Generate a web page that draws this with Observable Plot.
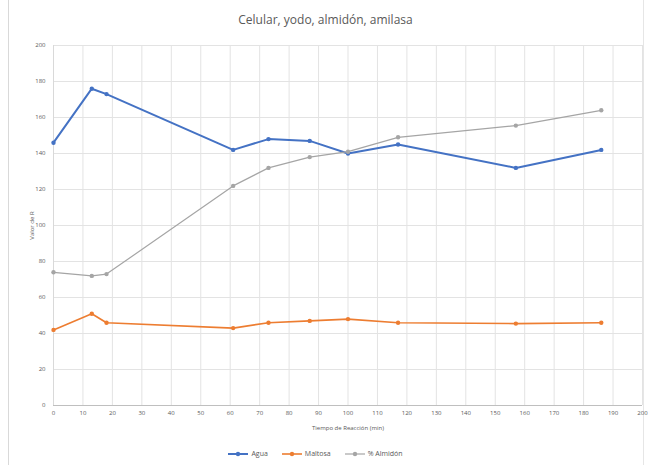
<!DOCTYPE html>
<html>
<head>
<meta charset="utf-8">
<script src="https://cdn.jsdelivr.net/npm/d3@7"></script>
<script src="https://cdn.jsdelivr.net/npm/@observablehq/plot@0.6"></script>
<style>
  body { margin: 0; background: #fff; font-family: "Open Sans", sans-serif; }
  #wrap { position: relative; width: 651px; height: 466px; overflow: hidden; }
  #frame { position: absolute; left: 8px; top: 0; width: 636px; height: 465px; border-left: 1px solid #d9d9d9; border-right: 1px solid #e6e6e6; box-sizing: border-box; }
  #title { position: absolute; left: 0; width: 651px; top: 11px; text-align: center; font-size: 12px; color: #595959; }
  #chart { position: absolute; left: 0; top: 32px; }
  #legend { position: absolute; left: -10px; width: 651px; top: 449px; display: flex; justify-content: center; gap: 14px; font-size: 7px; color: #595959; }
  .item { display: flex; align-items: center; gap: 3px; }
</style>
</head>
<body>
<div id="wrap">
  <div id="frame"></div>
  <div id="title">Celular, yodo, almidón, amilasa</div>
  <div id="chart"></div>
  <div id="legend"></div>
</div>
<script>
const times = [0, 13, 18, 61, 73, 87, 100, 117, 157, 186];
const seriesNames = ["Agua", "Maltosa", "% Almidón"];
const seriesColors = ["#4472C4", "#ED7D31", "#A5A5A5"];
const seriesWidths = [2, 1.6, 1.2];
const agua = [146, 176, 173, 142, 148, 147, 140, 145, 132, 142];
const maltosa = [42, 51, 46, 43, 46, 47, 48, 46, 45.5, 46];
const almidon = [74, 72, 73, 122, 132, 138, 141, 149, 155.5, 164];
const xTicks = d3.range(0, 201, 10);
const yTicks = d3.range(0, 201, 20);
const xLabel = "Tiempo de Reacción (min)";
const yLabel = "Valor de R";

const seriesValues = [agua, maltosa, almidon];
const data = [];
seriesNames.forEach((name, i) => {
  times.forEach((t, j) => data.push({ serie: name, t, v: seriesValues[i][j], w: seriesWidths[i] }));
});

const chart = Plot.plot({
  width: 651,
  height: 403,
  marginLeft: 53,
  marginRight: 9,
  marginTop: 13,
  marginBottom: 30,
  style: { fontFamily: "Open Sans, sans-serif", fontSize: "6px", color: "#595959", background: "transparent" },
  x: { domain: [0, 200] },
  y: { domain: [0, 200] },
  color: { domain: seriesNames, range: seriesColors },
  marks: [
    Plot.gridX(xTicks, { stroke: "#e3e3e3", strokeOpacity: 1 }),
    Plot.gridY(yTicks, { stroke: "#e3e3e3", strokeOpacity: 1 }),
    Plot.ruleY([0], { stroke: "#bfbfbf" }),
    Plot.ruleX([0], { stroke: "#d9d9d9" }),
    ...seriesNames.map((name, i) =>
      Plot.line(data.filter(d => d.serie === name), { x: "t", y: "v", stroke: "serie", strokeWidth: seriesWidths[i] })),
    Plot.dot(data, { x: "t", y: "v", fill: "serie", r: 2.2 }),
    Plot.axisX({ ticks: xTicks, tickSize: 0, tickPadding: 5, fontSize: 6, label: xLabel, labelAnchor: "center", labelOffset: 24, labelArrow: "none" }),
    Plot.axisY({ ticks: yTicks, tickSize: 0, tickPadding: 8, fontSize: 6, label: yLabel, labelAnchor: "center", labelOffset: 24, labelArrow: "none" })
  ]
});
document.getElementById("chart").appendChild(chart);

const legend = document.getElementById("legend");
seriesNames.forEach((name, i) => {
  const item = document.createElement("div");
  item.className = "item";
  item.innerHTML = `<svg width="20" height="8"><line x1="0" y1="4" x2="20" y2="4" stroke="${seriesColors[i]}" stroke-width="${seriesWidths[i]}"/><circle cx="10" cy="4" r="2.2" fill="${seriesColors[i]}"/></svg><span>${name}</span>`;
  legend.appendChild(item);
});
</script>
</body>
</html>
